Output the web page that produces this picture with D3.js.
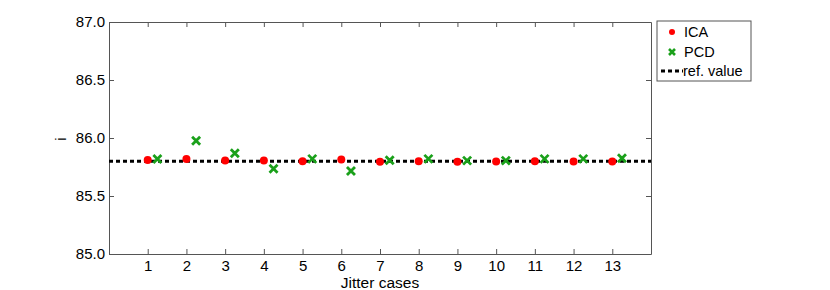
<!DOCTYPE html>
<html>
<head>
<meta charset="utf-8">
<script src="https://cdn.jsdelivr.net/npm/d3@7"></script>
<style>
  body { margin: 0; background: #fff; }
  text { font-family: "Liberation Sans", Arial, sans-serif; }
</style>
</head>
<body>
<div id="chart"></div>
<script>
// jitter cases and values
var cases = [1, 2, 3, 4, 5, 6, 7, 8, 9, 10, 11, 12, 13];
var icaValues = [85.81, 85.82, 85.805, 85.805, 85.80, 85.815, 85.795, 85.80, 85.795, 85.797, 85.80, 85.797, 85.797];
var pcdValues = [85.819, 85.977, 85.868, 85.735, 85.82, 85.716, 85.808, 85.82, 85.805, 85.805, 85.82, 85.82, 85.825];
var refValue = 85.8;
var yTicks = [85.0, 85.5, 86.0, 86.5, 87.0];
var legendLabels = ["ICA", "PCD", "ref. value"];

var margin = { top: 22, right: 179, bottom: 36, left: 109 };
var width = 830 - margin.left - margin.right;
var height = 290 - margin.top - margin.bottom;

var svg = d3.select("#chart")
    .append("svg")
    .attr("width", 830)
    .attr("height", 290);

var g = svg.append("g")
    .attr("transform", "translate(" + margin.left + "," + margin.top + ")");

var x = d3.scaleLinear().domain([0, 14]).range([0, width]);
var y = d3.scaleLinear().domain([85, 87]).range([height, 0]);

// axes box, matlab style ticks pointing inwards
var axisColor = "#555";
function styleAxis(sel) {
    sel.select(".domain").attr("stroke", axisColor);
    sel.selectAll(".tick line").attr("stroke", axisColor);
    sel.selectAll("text").attr("fill", "#000").style("font-size", "15px");
}

g.append("g")
    .attr("transform", "translate(0," + height + ")")
    .call(d3.axisBottom(x).tickValues(cases).tickSizeInner(-5).tickSizeOuter(0).tickPadding(6))
    .call(styleAxis);

g.append("g")
    .call(d3.axisTop(x).tickValues(cases).tickSizeInner(-5).tickSizeOuter(0).tickFormat(""))
    .call(styleAxis);

g.append("g")
    .call(d3.axisLeft(y).tickValues(yTicks).tickSizeInner(-5).tickSizeOuter(0).tickPadding(4).tickFormat(d3.format(".1f")))
    .call(styleAxis);

g.append("g")
    .attr("transform", "translate(" + width + ",0)")
    .call(d3.axisRight(y).tickValues(yTicks).tickSizeInner(-5).tickSizeOuter(0).tickFormat(""))
    .call(styleAxis);

// labels
g.append("text")
    .attr("x", x(7))
    .attr("y", height + 34)
    .attr("text-anchor", "middle")
    .style("font-size", "15.5px")
    .text("Jitter cases");

g.append("text")
    .attr("transform", "translate(" + (-43) + "," + (y(86) + 1) + ") rotate(-90)")
    .attr("text-anchor", "middle")
    .style("font-size", "15px")
    .text("i");

// reference line
g.append("line")
    .attr("x1", x(0))
    .attr("x2", x(14))
    .attr("y1", y(refValue))
    .attr("y2", y(refValue))
    .attr("stroke", "#000")
    .attr("stroke-width", 3)
    .attr("stroke-dasharray", "4,3");

// ICA points
g.selectAll(".ica")
    .data(cases)
    .enter().append("circle")
    .attr("class", "ica")
    .attr("cx", function (d) { return x(d); })
    .attr("cy", function (d, i) { return y(icaValues[i]); })
    .attr("r", 4)
    .attr("fill", "#f00");

// PCD points, shifted right a little
var cross = "M-4,-4L4,4M-4,4L4,-4";
g.selectAll(".pcd")
    .data(cases)
    .enter().append("path")
    .attr("class", "pcd")
    .attr("transform", function (d, i) { return "translate(" + x(d + 0.25) + "," + y(pcdValues[i]) + ")"; })
    .attr("d", cross)
    .attr("stroke", "#1aa01a")
    .attr("stroke-width", 2.8)
    .attr("fill", "none");

// legend
var legend = svg.append("g")
    .attr("transform", "translate(657,21)");

legend.append("rect")
    .attr("x", 0)
    .attr("y", 0)
    .attr("width", 94)
    .attr("height", 60)
    .attr("fill", "#fff")
    .attr("stroke", axisColor);

legend.append("circle")
    .attr("cx", 15)
    .attr("cy", 11)
    .attr("r", 3)
    .attr("fill", "#f00");

legend.append("path")
    .attr("transform", "translate(15,31)")
    .attr("d", "M-3,-3L3,3M-3,3L3,-3")
    .attr("stroke", "#1aa01a")
    .attr("stroke-width", 2.6);

legend.append("line")
    .attr("x1", 4)
    .attr("x2", 26)
    .attr("y1", 50)
    .attr("y2", 50)
    .attr("stroke", "#000")
    .attr("stroke-width", 3)
    .attr("stroke-dasharray", "4,3");

legend.selectAll(".lab")
    .data(legendLabels)
    .enter().append("text")
    .attr("class", "lab")
    .attr("x", function (d, i) { return i == 2 ? 26 : 27; })
    .attr("y", function (d, i) { return 16 + i * 19.5; })
    .style("font-size", "14.5px")
    .text(function (d) { return d; });
</script>
</body>
</html>
